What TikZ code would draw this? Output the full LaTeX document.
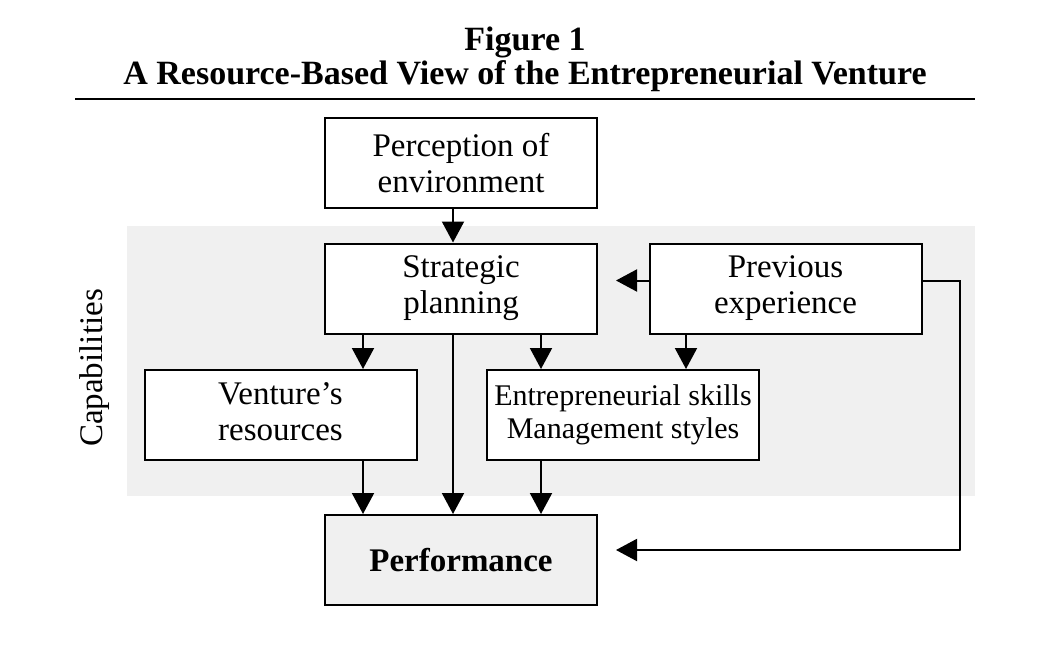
\documentclass[tikz,border=0pt]{standalone}
\usepackage{fontspec}
\setmainfont{Liberation Serif}
\usetikzlibrary{arrows.meta}
\definecolor{panel}{HTML}{F0F0F0}

\begin{document}
\begin{tikzpicture}[x=1pt,y=-1pt,
    box/.style={draw,line width=2pt,fill=white,minimum width=272pt,minimum height=90pt,
      align=center,inner sep=0pt,font=\fontsize{33}{36}\selectfont},
    arr/.style={line width=2pt,-{Triangle[length=21pt,width=22pt]}}]
                      \useasboundingbox (0,0) rectangle (1039,661);
                      \node[align=center,font=\bfseries\fontsize{34}{34}\selectfont](title)at(525,59){Figure 1\\A Resource-Based View of the Entrepreneurial Venture};
                      \draw[line width=2pt] (75,99) -- (975,99);
                      \fill[panel] (127,226) rectangle (975,496);
                      \node[rotate=90,font=\fontsize{33}{36}\selectfont](cap)at(95,368){Capabilities};
                      \node[box](per)at(461,163){Perception of\\environment};
                      \node[box](str)at(461,288.5){\strut Strategic\\\strut planning};
                      \node[box](prev)at(785.5,288.5){\strut Previous\\\strut experience};
                      \node[box](ven)at(280.5,415){\strut Venture’s\\\strut resources};
                      \node[box,font=\fontsize{30}{33}\selectfont](ent)at(623,415){\strut Entrepreneurial skills\\\strut Management styles};
                      \node[box,fill=panel,font=\bfseries\fontsize{33}{36}\selectfont](perf)at(461,560){Performance};
                      \draw[arr]([xshift=-8pt]per.south)--([xshift=-8pt]str.north);
                      \draw[arr]([xshift=-98pt]str.south)--([xshift=82.5pt]ven.north);
                      \draw[arr]([xshift=80pt]str.south)--([xshift=-82pt]ent.north);
                      \draw[arr]([xshift=-8pt]str.south)--([xshift=-8pt]perf.north);
                      \draw[arr]([xshift=-99.5pt]prev.south)--([xshift=63pt]ent.north);
                      \draw[arr]([yshift=8pt]prev.west)--([xshift=18pt,yshift=8pt]str.east);
                      \draw[arr]([xshift=82.5pt]ven.south)--([xshift=-98pt]perf.north);
                      \draw[arr]([xshift=-82pt]ent.south)--([xshift=80pt]perf.north);
                      \draw[arr]([yshift=8pt]prev.east)-|++(37,270)|-([xshift=18pt,yshift=10pt]perf.east);
                  \end{tikzpicture}
\end{document}
